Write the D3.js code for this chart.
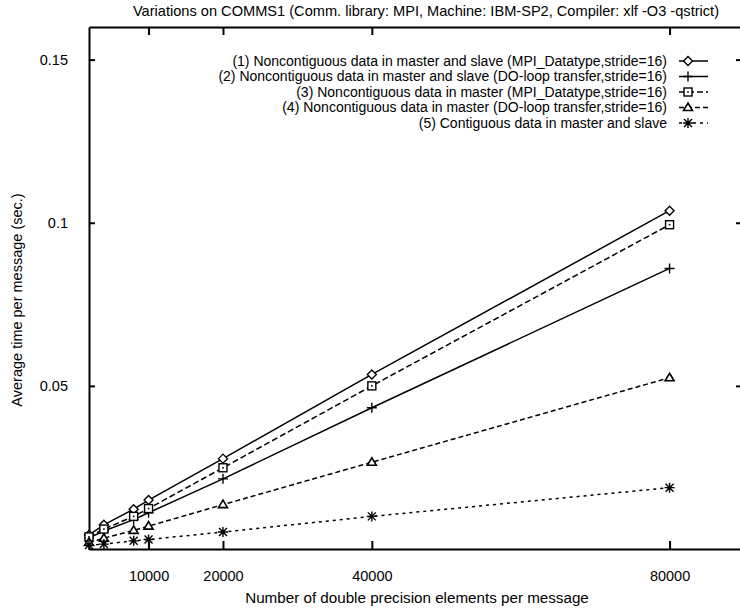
<!DOCTYPE html>
<html>
<head>
<meta charset="utf-8">
<script src="https://cdn.jsdelivr.net/npm/d3@7"></script>
<style>
  body { margin: 0; background: #fff; }
  text { font-family: "Liberation Sans", Arial, sans-serif; fill: #000; }
</style>
</head>
<body>
<svg id="chart" width="740" height="610"></svg>
<script>
// message sizes (number of double precision elements)
var sizes = [2000, 4000, 8000, 10000, 20000, 40000, 80000];

// average time per message (sec.) for each variation
var mpiDatatypeBoth = [0.0043, 0.0074, 0.0122, 0.0150, 0.0277, 0.0535, 0.1037];
var doLoopBoth      = [0.0034, 0.0055, 0.0090, 0.0111, 0.0215, 0.0433, 0.0860];
var mpiDatatypeMaster = [0.0037, 0.0061, 0.0100, 0.0124, 0.0249, 0.0500, 0.0994];
var doLoopMaster    = [0.0020, 0.0033, 0.0057, 0.0070, 0.0136, 0.0266, 0.0525];
var contiguous      = [0.0012, 0.0015, 0.0025, 0.0029, 0.0052, 0.0100, 0.0188];

var seriesNames = [
    "(1) Noncontiguous data in master and slave (MPI_Datatype,stride=16)",
    "(2) Noncontiguous data in master and slave (DO-loop transfer,stride=16)",
    "(3) Noncontiguous data in master (MPI_Datatype,stride=16)",
    "(4) Noncontiguous data in master (DO-loop transfer,stride=16)",
    "(5) Contiguous data in master and slave"
];

var xTicks = [10000, 20000, 40000, 80000];
var yTicks = [0.05, 0.1, 0.15];

var titleText = "Variations on COMMS1 (Comm. library: MPI, Machine: IBM-SP2, Compiler: xlf -O3 -qstrict)";
var xLabel = "Number of double precision elements per message";
var yLabel = "Average time per message (sec.)";

//drawing space
var svg = d3.select("#chart"),
    margin = {top: 27, left: 89, bottom: 61, right: -4},
    width = +svg.attr("width"),
    height = +svg.attr("height");

var x = d3.scaleLinear().domain([2000, 90000]).range([margin.left, width - margin.right]);
var y = d3.scaleLinear().domain([0, 0.16]).range([height - margin.bottom, margin.top]);

//line styles and markers per series
var styles = [
    {data: mpiDatatypeBoth, dash: null, marker: "diamond"},
    {data: doLoopBoth, dash: null, marker: "plus"},
    {data: mpiDatatypeMaster, dash: "6,3", marker: "square"},
    {data: doLoopMaster, dash: "5,3", marker: "triangle"},
    {data: contiguous, dash: "3,4", marker: "star"}
];

//title
svg.append("text")
    .attr("x", 426).attr("y", 16)
    .attr("text-anchor", "middle")
    .style("font-size", "14.6px")
    .text(titleText);

//axes with inward ticks
svg.append("g")
    .attr("transform", "translate(0," + y(0) + ")")
    .call(d3.axisBottom(x).tickValues(xTicks).tickFormat(d3.format("d"))
        .tickSizeInner(-8).tickSizeOuter(0).tickPadding(22));

svg.append("g")
    .attr("transform", "translate(0," + margin.top + ")")
    .call(d3.axisTop(x).tickValues(xTicks).tickFormat("")
        .tickSizeInner(-8).tickSizeOuter(0));

svg.append("g")
    .attr("transform", "translate(" + margin.left + ",0)")
    .call(d3.axisLeft(y).tickValues(yTicks).tickFormat(function (d) { return String(d); })
        .tickSizeInner(-6).tickSizeOuter(0).tickPadding(21));

svg.append("g")
    .attr("transform", "translate(" + (width - margin.right) + ",0)")
    .call(d3.axisRight(y).tickValues(yTicks).tickFormat("")
        .tickSizeInner(-8).tickSizeOuter(0));

svg.selectAll(".domain").attr("stroke", "#000").attr("stroke-width", 2);
svg.selectAll(".tick line").attr("stroke", "#000").attr("stroke-width", 2);
svg.selectAll(".tick text").style("font-size", "14.5px").attr("font-family", null);

//axis labels
svg.append("text")
    .attr("x", 417).attr("y", 603)
    .attr("text-anchor", "middle")
    .style("font-size", "15.2px")
    .text(xLabel);

svg.append("text")
    .attr("transform", "translate(22,300) rotate(-90)")
    .attr("text-anchor", "middle")
    .style("font-size", "14.5px")
    .text(yLabel);

//marker drawing
function drawMarker(g, type, cx, cy) {
    if (type === "diamond") {
        g.append("path")
            .attr("d", "M" + cx + "," + (cy - 4.5) + "L" + (cx + 4.5) + "," + cy + "L" + cx + "," + (cy + 4.5) + "L" + (cx - 4.5) + "," + cy + "Z")
            .attr("fill", "#fff").attr("stroke", "#000").attr("stroke-width", 1.4);
    } else if (type === "plus") {
        g.append("path")
            .attr("d", "M" + (cx - 5) + "," + cy + "H" + (cx + 5) + "M" + cx + "," + (cy - 5) + "V" + (cy + 5))
            .attr("stroke", "#000").attr("stroke-width", 1.4);
    } else if (type === "square") {
        g.append("rect")
            .attr("x", cx - 4).attr("y", cy - 4).attr("width", 8).attr("height", 8)
            .attr("fill", "#fff").attr("stroke", "#000").attr("stroke-width", 1.4);
        g.append("rect")
            .attr("x", cx - 0.8).attr("y", cy - 0.8).attr("width", 1.6).attr("height", 1.6)
            .attr("fill", "#000");
    } else if (type === "triangle") {
        g.append("path")
            .attr("d", "M" + cx + "," + (cy - 4.5) + "L" + (cx + 4.5) + "," + (cy + 3) + "L" + (cx - 4.5) + "," + (cy + 3) + "Z")
            .attr("fill", "#fff").attr("stroke", "#000").attr("stroke-width", 1.6);
    } else if (type === "star") {
        g.append("path")
            .attr("d", "M" + (cx - 5) + "," + cy + "H" + (cx + 5) +
                "M" + cx + "," + (cy - 5) + "V" + (cy + 5) +
                "M" + (cx - 4) + "," + (cy - 4) + "L" + (cx + 4) + "," + (cy + 4) +
                "M" + (cx - 4) + "," + (cy + 4) + "L" + (cx + 4) + "," + (cy - 4))
            .attr("stroke", "#000").attr("stroke-width", 1.4);
    }
}

var line = d3.line()
    .x(function (d) { return x(d[0]); })
    .y(function (d) { return y(d[1]); });

var plot = svg.append("g").attr("class", "series");

styles.forEach(function (s) {
    var pts = sizes.map(function (v, i) { return [v, s.data[i]]; });
    plot.append("path")
        .datum(pts)
        .attr("d", line)
        .attr("fill", "none")
        .attr("stroke", "#000")
        .attr("stroke-width", 1.5)
        .attr("stroke-dasharray", s.dash);
});

styles.forEach(function (s) {
    var g = plot.append("g");
    sizes.forEach(function (v, i) {
        drawMarker(g, s.marker, x(v), y(s.data[i]));
    });
});

//legend
var legend = svg.append("g").attr("class", "legend");
var legendRows = [61, 76.5, 92, 107.5, 123];

styles.forEach(function (s, i) {
    var ly = legendRows[i];
    legend.append("text")
        .attr("x", 667).attr("y", ly)
        .attr("dy", "0.35em")
        .attr("text-anchor", "end")
        .style("font-size", "14px")
        .text(seriesNames[i]);
    legend.append("line")
        .attr("x1", 679).attr("x2", 708)
        .attr("y1", ly).attr("y2", ly)
        .attr("stroke", "#000")
        .attr("stroke-width", 1.5)
        .attr("stroke-dasharray", s.dash);
    drawMarker(legend, s.marker, 688, ly);
});
</script>
</body>
</html>
